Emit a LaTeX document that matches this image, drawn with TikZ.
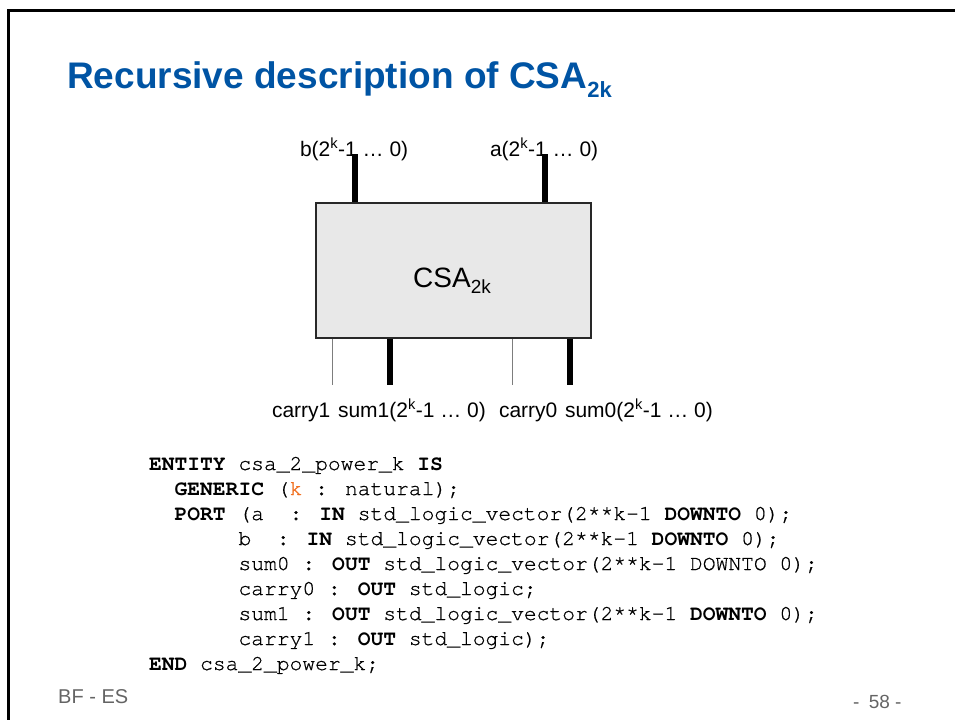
\documentclass[tikz,border=0pt]{standalone}
\usepackage{fontspec}
\setmainfont{Liberation Sans}
\newfontfamily\codefont{texgyrecursor-regular.otf}[BoldFont=texgyrecursor-bold.otf, UprightFeatures={FakeBold=0.7}]
\definecolor{titleblue}{RGB}{0,84,164}
\definecolor{boxgray}{RGB}{232,232,232}
\definecolor{thingray}{RGB}{125,125,125}
\definecolor{footgray}{RGB}{100,100,100}
\definecolor{korange}{RGB}{240,110,30}
\tikzset{
  lbl/.style={anchor=base west, inner sep=0pt, outer sep=0pt, font=\fontsize{21}{25}\selectfont},
  codeline/.style={anchor=base west, inner sep=0pt, outer sep=0pt, font=\codefont\fontsize{21.3}{25}\selectfont},
  thickwire/.style={line width=5.5pt, black},
  thinwire/.style={line width=1pt, thingray},
  blockbox/.style={draw={rgb,255:red,40;green,40;blue,40}, line width=1.2pt, fill=boxgray, minimum width=275pt, minimum height=135pt, inner sep=0pt},
  foot/.style={anchor=base west, inner sep=0pt, text=footgray}
}
\begin{document}
\begin{tikzpicture}[x=1pt,y=1pt]
\useasboundingbox (0,0) rectangle (955,-720);
% frame
\draw[line width=3pt] (955,-10.5) -- (8,-10.5) -- (8,-720);
% title
\node[anchor=base west, inner sep=0pt, text=titleblue, font=\fontsize{37}{40}\selectfont\bfseries] (title) at (67,-88)
  {Recursive description of CSA\raisebox{-9pt}{\fontsize{22}{22}\selectfont 2k}};
% block
\node[blockbox] (csa) at (453.5,-270.5) {};
\node[anchor=base west, inner sep=0pt, font=\fontsize{28}{30}\selectfont] (csalbl) at (413,-287)
  {CSA\raisebox{-6pt}{\fontsize{19}{19}\selectfont 2k}};
% top labels
\node[lbl] (blbl) at (300,-156) {b(2\textsuperscript{k}-1 … 0)};
\node[lbl] (albl) at (490,-156) {a(2\textsuperscript{k}-1 … 0)};
% bottom labels
\node[lbl] (lc1) at (272,-417) {carry1};
\node[lbl] (ls1) at (338,-417) {sum1(2\textsuperscript{k}-1 … 0)};
\node[lbl] (lc0) at (499,-417) {carry0};
\node[lbl] (ls0) at (565,-417) {sum0(2\textsuperscript{k}-1 … 0)};
% wire end points
\coordinate (bend) at (355,-154);
\coordinate (aend) at (545,-154);
\coordinate (c1end) at (332,-385);
\coordinate (s1end) at (390,-385);
\coordinate (c0end) at (512,-385);
\coordinate (s0end) at (570,-385);
% wires
\draw[thickwire] (bend) -- (bend |- csa.north);
\draw[thickwire] (aend) -- (aend |- csa.north);
\draw[thinwire] (c1end |- csa.south) -- (c1end);
\draw[thickwire] (s1end |- csa.south) -- (s1end);
\draw[thinwire] (c0end |- csa.south) -- (c0end);
\draw[thickwire] (s0end |- csa.south) -- (s0end);
% code
\node[codeline] (code1) at (149,-470) {\textbf{ENTITY} csa\_2\_power\_k \textbf{IS}};
\node[codeline] (code2) at (174.6,-495) {\textbf{GENERIC} (\textcolor{korange}{k} : natural);};
\node[codeline] (code3) at (174.6,-520) {\textbf{PORT} (a\ \ : \textbf{IN} std\_logic\_vector(2**k-1 \textbf{DOWNTO} 0);};
\node[codeline] (code4) at (238.5,-545) {b\ \ : \textbf{IN} std\_logic\_vector(2**k-1 \textbf{DOWNTO} 0);};
\node[codeline] (code5) at (238.5,-570) {sum0 : \textbf{OUT} std\_logic\_vector(2**k-1 DOWNTO 0);};
\node[codeline] (code6) at (238.5,-595) {carry0 : \textbf{OUT} std\_logic;};
\node[codeline] (code7) at (238.5,-620) {sum1 : \textbf{OUT} std\_logic\_vector(2**k-1 \textbf{DOWNTO} 0);};
\node[codeline] (code8) at (238.5,-645) {carry1 : \textbf{OUT} std\_logic);};
\node[codeline] (code9) at (149,-670) {\textbf{END} csa\_2\_power\_k;};
% footer
\node[foot, font=\fontsize{20}{22}\selectfont] (footl) at (58,-703) {BF - ES};
\node[foot, font=\fontsize{19}{21}\selectfont] (footr) at (853,-708) {-\hspace{4pt} 58 -};
\end{tikzpicture}
\end{document}
